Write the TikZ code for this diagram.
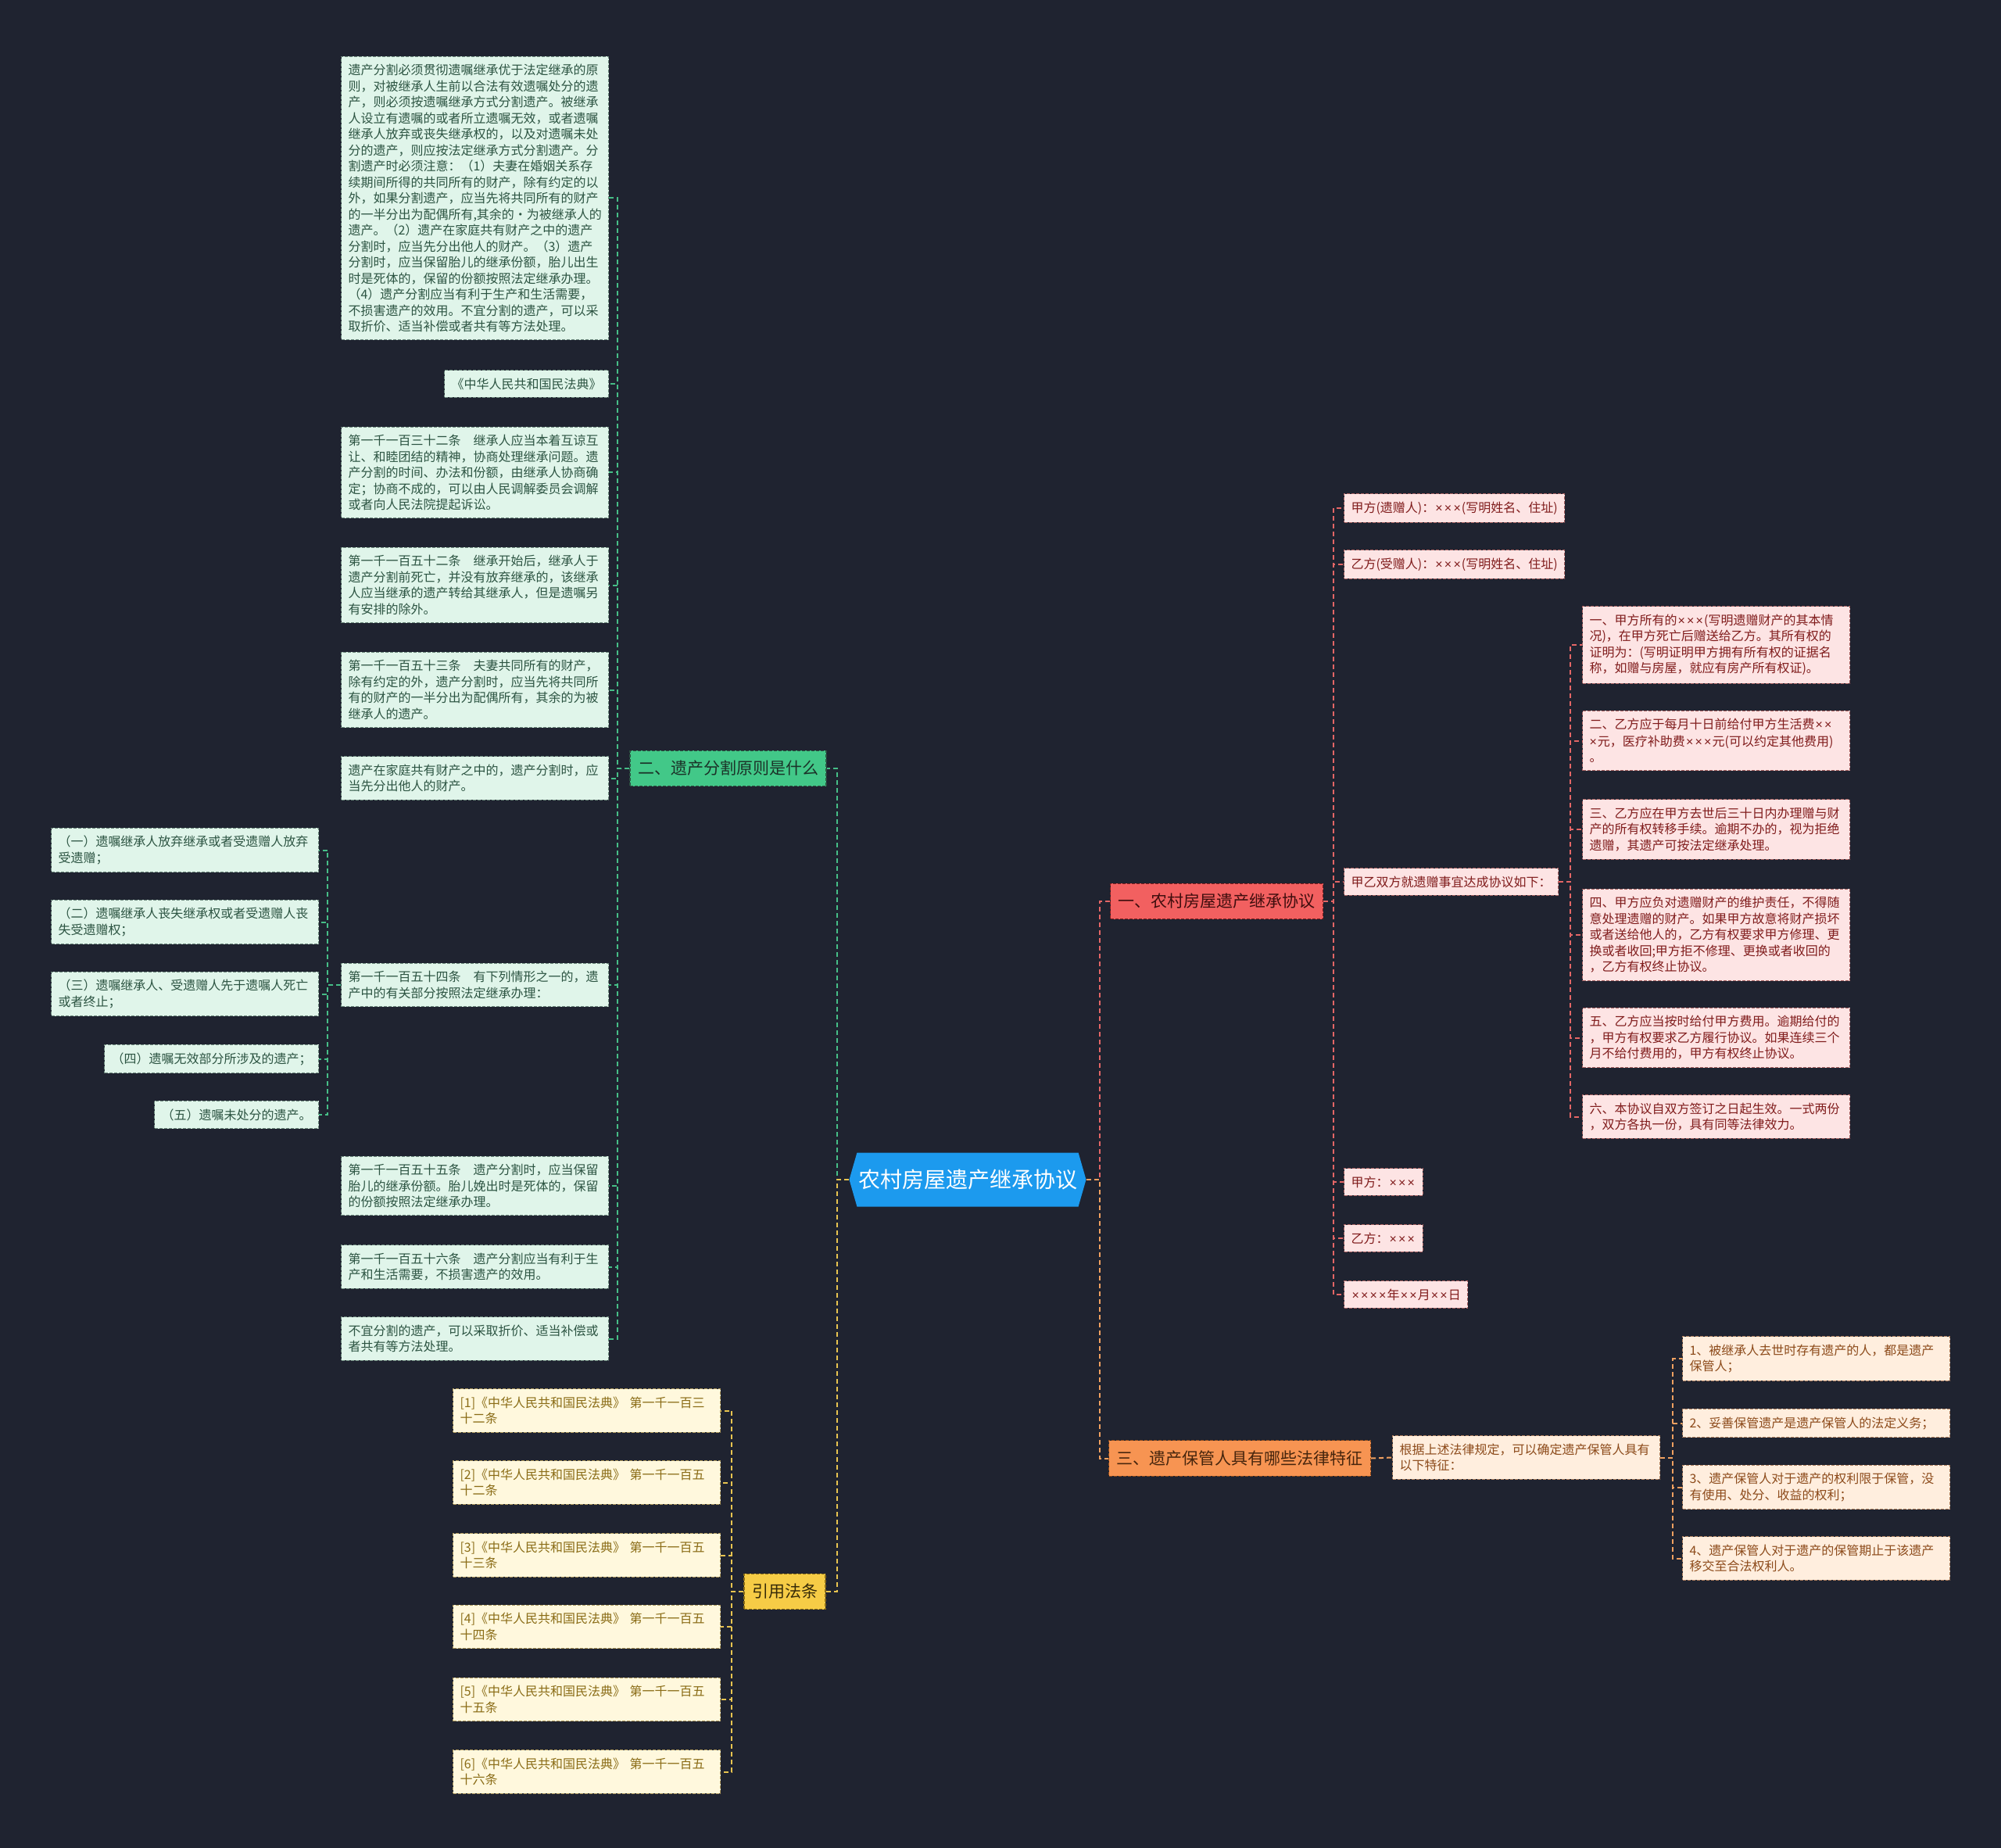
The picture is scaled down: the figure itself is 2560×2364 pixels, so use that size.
\documentclass[tikz,border=0pt]{standalone}
\usepackage{fontspec}
\setmainfont{Noto Sans CJK SC}
\newfontfamily\latinfont{Liberation Sans}
\newcommand{\crs}{{\kern0.55pt\latinfont ×\kern0.55pt}}
\usetikzlibrary{shapes.symbols}

\definecolor{bg}{RGB}{31,35,48}
\definecolor{rootc}{RGB}{28,154,238}
\definecolor{gmain}{RGB}{66,200,136}
\definecolor{gleaf}{RGB}{224,245,234}
\definecolor{gtext}{RGB}{44,84,66}
\definecolor{gline}{RGB}{70,190,135}
\definecolor{ymain}{RGB}{246,204,70}
\definecolor{yleaf}{RGB}{255,248,221}
\definecolor{ytext}{RGB}{138,108,22}
\definecolor{yline}{RGB}{232,196,80}
\definecolor{rmain}{RGB}{242,96,96}
\definecolor{rleaf}{RGB}{253,228,228}
\definecolor{rtext}{RGB}{128,28,28}
\definecolor{rline}{RGB}{228,102,102}
\definecolor{omain}{RGB}{247,148,82}
\definecolor{oleaf}{RGB}{255,238,222}
\definecolor{otext}{RGB}{140,74,26}
\definecolor{oline}{RGB}{240,160,96}

\begin{document}
\begin{tikzpicture}[x=0.5pt,y=-0.5pt]
  \tikzset{
      link/.style = {
          dashed, dash pattern = on 3pt off 2pt, line width = 1pt
      },
      root/.style = {
          shape = signal, signal to = west and east, signal pointer angle = 148,
          fill = rootc, text = white, font = \fontsize{14}{16}\selectfont,
          minimum width = 151.5pt, minimum height = 34.5pt, inner sep = 0pt
      },
      branch/.style = {
          draw, dashed, dash pattern = on 2pt off 1pt, line width = 0.6pt,
          font = \fontsize{10.5}{12}\selectfont, inner xsep = 5pt, inner ysep = 6.5pt
      },
      leaf/.style = {
          draw, dashed, dash pattern = on 2pt off 1pt, line width = 0.5pt,
          font = \fontsize{8}{10.25}\selectfont, align = left,
          inner xsep = 4.5pt, inner ysep = 5pt
      },
      wideleaf/.style = {
          leaf, text width = 162pt
      },
      gbr/.style = {fill = gmain, draw = gtext, text = gtext!60!black},
      ybr/.style = {fill = ymain, draw = ytext, text = ytext!40!black},
      rbr/.style = {fill = rmain, draw = rtext, text = rtext!50!black},
      obr/.style = {fill = omain, draw = otext, text = otext!50!black},
      gcol/.style = {fill = gleaf, draw = gtext!70, text = gtext},
      ycol/.style = {fill = yleaf, draw = ytext!70, text = ytext},
      rcol/.style = {fill = rleaf, draw = rtext!70, text = rtext},
      ocol/.style = {fill = oleaf, draw = otext!70, text = otext}
  }
  \path[use as bounding box, fill = bg] (0,0) rectangle (2560,2364);

  % centre
  \node[root] (root) at (1238,1509) {农村房屋遗产继承协议};

  % left: 二
  \node[branch, gbr] (g) at (931.5,983) {二、遗产分割原则是什么};
  \node[wideleaf, gcol, anchor=east] (g1) at (779,253.5) {遗产分割必须贯彻遗嘱继承优于法定继承的原\\则，对被继承人生前以合法有效遗嘱处分的遗\\产，则必须按遗嘱继承方式分割遗产。被继承\\人设立有遗嘱的或者所立遗嘱无效，或者遗嘱\\继承人放弃或丧失继承权的，以及对遗嘱未处\\分的遗产，则应按法定继承方式分割遗产。分\\割遗产时必须注意：（1）夫妻在婚姻关系存\\续期间所得的共同所有的财产，除有约定的以\\外，如果分割遗产，应当先将共同所有的财产\\的一半分出为配偶所有,其余的·为被继承人的\\遗产。（2）遗产在家庭共有财产之中的遗产\\分割时，应当先分出他人的财产。（3）遗产\\分割时，应当保留胎儿的继承份额，胎儿出生\\时是死体的，保留的份额按照法定继承办理。\\（4）遗产分割应当有利于生产和生活需要，\\不损害遗产的效用。不宜分割的遗产，可以采\\取折价、适当补偿或者共有等方法处理。};
  \node[leaf, gcol, anchor=east] (g2) at (779,491) {《中华人民共和国民法典》};
  \node[wideleaf, gcol, anchor=east] (g3) at (779,604.5) {第一千一百三十二条　继承人应当本着互谅互\\让、和睦团结的精神，协商处理继承问题。遗\\产分割的时间、办法和份额，由继承人协商确\\定；协商不成的，可以由人民调解委员会调解\\或者向人民法院提起诉讼。};
  \node[wideleaf, gcol, anchor=east] (g4) at (779,748.5) {第一千一百五十二条　继承开始后，继承人于\\遗产分割前死亡，并没有放弃继承的，该继承\\人应当继承的遗产转给其继承人，但是遗嘱另\\有安排的除外。};
  \node[wideleaf, gcol, anchor=east] (g5) at (779,882.5) {第一千一百五十三条　夫妻共同所有的财产，\\除有约定的外，遗产分割时，应当先将共同所\\有的财产的一半分出为配偶所有，其余的为被\\继承人的遗产。};
  \node[wideleaf, gcol, anchor=east] (g6) at (779,995.5) {遗产在家庭共有财产之中的，遗产分割时，应\\当先分出他人的财产。};
  \node[wideleaf, gcol, anchor=east] (g7) at (779,1260) {第一千一百五十四条　有下列情形之一的，遗\\产中的有关部分按照法定继承办理：};
  \node[wideleaf, gcol, anchor=east] (g8) at (779,1517) {第一千一百五十五条　遗产分割时，应当保留\\胎儿的继承份额。胎儿娩出时是死体的，保留\\的份额按照法定继承办理。};
  \node[wideleaf, gcol, anchor=east] (g9) at (779,1620.5) {第一千一百五十六条　遗产分割应当有利于生\\产和生活需要，不损害遗产的效用。};
  \node[wideleaf, gcol, anchor=east] (g10) at (779,1712.5) {不宜分割的遗产，可以采取折价、适当补偿或\\者共有等方法处理。};
  \node[wideleaf, gcol, anchor=east] (s1) at (408,1087.5) {（一）遗嘱继承人放弃继承或者受遗赠人放弃\\受遗赠；};
  \node[wideleaf, gcol, anchor=east] (s2) at (408,1179.5) {（二）遗嘱继承人丧失继承权或者受遗赠人丧\\失受遗赠权；};
  \node[wideleaf, gcol, anchor=east] (s3) at (408,1271.5) {（三）遗嘱继承人、受遗赠人先于遗嘱人死亡\\或者终止；};
  \node[leaf, gcol, anchor=east] (s4) at (408,1354.5) {（四）遗嘱无效部分所涉及的遗产；};
  \node[leaf, gcol, anchor=east] (s5) at (408,1426) {（五）遗嘱未处分的遗产。};

  % left: citations
  \node[branch, ybr] (y) at (1004,2036) {引用法条};
  \node[wideleaf, ycol, anchor=east] (y1) at (922,1804.5) {[1]《中华人民共和国民法典》 第一千一百三\\十二条};
  \node[wideleaf, ycol, anchor=east] (y2) at (922,1896.5) {[2]《中华人民共和国民法典》 第一千一百五\\十二条};
  \node[wideleaf, ycol, anchor=east] (y3) at (922,1989.5) {[3]《中华人民共和国民法典》 第一千一百五\\十三条};
  \node[wideleaf, ycol, anchor=east] (y4) at (922,2081) {[4]《中华人民共和国民法典》 第一千一百五\\十四条};
  \node[wideleaf, ycol, anchor=east] (y5) at (922,2174) {[5]《中华人民共和国民法典》 第一千一百五\\十五条};
  \node[wideleaf, ycol, anchor=east] (y6) at (922,2266.5) {[6]《中华人民共和国民法典》 第一千一百五\\十六条};

  % right: 一
  \node[branch, rbr] (r) at (1556.5,1153) {一、农村房屋遗产继承协议};
  \node[leaf, rcol, anchor=west] (r1) at (1719,650) {甲方(遗赠人)：\crs\crs\crs(写明姓名、住址)};
  \node[leaf, rcol, anchor=west] (r2) at (1719,722) {乙方(受赠人)：\crs\crs\crs(写明姓名、住址)};
  \node[leaf, rcol, anchor=west] (r3) at (1719,1128) {甲乙双方就遗赠事宜达成协议如下：};
  \node[leaf, rcol, anchor=west] (r4) at (1719,1512) {甲方：\crs\crs\crs};
  \node[leaf, rcol, anchor=west] (r5) at (1719,1584) {乙方：\crs\crs\crs};
  \node[leaf, rcol, anchor=west] (r6) at (1719,1656) {\crs\crs\crs\crs 年\crs\crs 月\crs\crs 日};
  \node[wideleaf, rcol, anchor=west] (a1) at (2024,825) {一、甲方所有的\crs\crs\crs(写明遗赠财产的其本情\\况)，在甲方死亡后赠送给乙方。其所有权的\\证明为：(写明证明甲方拥有所有权的证据名\\称，如赠与房屋，就应有房产所有权证)。};
  \node[wideleaf, rcol, anchor=west] (a2) at (2024,947.5) {二、乙方应于每月十日前给付甲方生活费\crs\crs\\\crs 元，医疗补助费\crs\crs\crs 元(可以约定其他费用)\\。};
  \node[wideleaf, rcol, anchor=west] (a3) at (2024,1061) {三、乙方应在甲方去世后三十日内办理赠与财\\产的所有权转移手续。逾期不办的，视为拒绝\\遗赠，其遗产可按法定继承处理。};
  \node[wideleaf, rcol, anchor=west] (a4) at (2024,1196) {四、甲方应负对遗赠财产的维护责任，不得随\\意处理遗赠的财产。如果甲方故意将财产损坏\\或者送给他人的，乙方有权要求甲方修理、更\\换或者收回;甲方拒不修理、更换或者收回的\\，乙方有权终止协议。};
  \node[wideleaf, rcol, anchor=west] (a5) at (2024,1327.5) {五、乙方应当按时给付甲方费用。逾期给付的\\，甲方有权要求乙方履行协议。如果连续三个\\月不给付费用的，甲方有权终止协议。};
  \node[wideleaf, rcol, anchor=west] (a6) at (2024,1428.5) {六、本协议自双方签订之日起生效。一式两份\\，双方各执一份，具有同等法律效力。};

  % right: 三
  \node[branch, obr] (o) at (1586,1865.5) {三、遗产保管人具有哪些法律特征};
  \node[wideleaf, ocol, anchor=west] (o1) at (1781,1864.5) {根据上述法律规定，可以确定遗产保管人具有\\以下特征：};
  \node[wideleaf, ocol, anchor=west] (p1) at (2152,1738) {1、被继承人去世时存有遗产的人，都是遗产\\保管人；};
  \node[wideleaf, ocol, anchor=west] (p2) at (2152,1820.5) {2、妥善保管遗产是遗产保管人的法定义务；};
  \node[wideleaf, ocol, anchor=west] (p3) at (2152,1902.5) {3、遗产保管人对于遗产的权利限于保管，没\\有使用、处分、收益的权利；};
  \node[wideleaf, ocol, anchor=west] (p4) at (2152,1993.5) {4、遗产保管人对于遗产的保管期止于该遗产\\移交至合法权利人。};

  % links
  \draw[link, gline] (root.west) -- ++(-15,0) |- (g.east);
  \draw[link, yline] (root.west) -- ++(-15,0) |- (y.east);
  \draw[link, rline] (root.east) -- ++(17,0) |- (r.west);
  \draw[link, oline] (root.east) -- ++(17,0) |- (o.west);

  \draw[link, gline] (g.west) -- ++(-15,0) |- (g1.east);
  \draw[link, gline] (g.west) -- ++(-15,0) |- (g2.east);
  \draw[link, gline] (g.west) -- ++(-15,0) |- (g3.east);
  \draw[link, gline] (g.west) -- ++(-15,0) |- (g4.east);
  \draw[link, gline] (g.west) -- ++(-15,0) |- (g5.east);
  \draw[link, gline] (g.west) -- ++(-15,0) |- (g6.east);
  \draw[link, gline] (g.west) -- ++(-15,0) |- (g7.east);
  \draw[link, gline] (g.west) -- ++(-15,0) |- (g8.east);
  \draw[link, gline] (g.west) -- ++(-15,0) |- (g9.east);
  \draw[link, gline] (g.west) -- ++(-15,0) |- (g10.east);
  \draw[link, gline] (g7.west) -- ++(-17,0) |- (s1.east);
  \draw[link, gline] (g7.west) -- ++(-17,0) |- (s2.east);
  \draw[link, gline] (g7.west) -- ++(-17,0) |- (s3.east);
  \draw[link, gline] (g7.west) -- ++(-17,0) |- (s4.east);
  \draw[link, gline] (g7.west) -- ++(-17,0) |- (s5.east);

  \draw[link, yline] (y.west) -- ++(-15,0) |- (y1.east);
  \draw[link, yline] (y.west) -- ++(-15,0) |- (y2.east);
  \draw[link, yline] (y.west) -- ++(-15,0) |- (y3.east);
  \draw[link, yline] (y.west) -- ++(-15,0) |- (y4.east);
  \draw[link, yline] (y.west) -- ++(-15,0) |- (y5.east);
  \draw[link, yline] (y.west) -- ++(-15,0) |- (y6.east);

  \draw[link, rline] (r.east) -- ++(13,0) |- (r1.west);
  \draw[link, rline] (r.east) -- ++(13,0) |- (r2.west);
  \draw[link, rline] (r.east) -- ++(13,0) |- (r3.west);
  \draw[link, rline] (r.east) -- ++(13,0) |- (r4.west);
  \draw[link, rline] (r.east) -- ++(13,0) |- (r5.west);
  \draw[link, rline] (r.east) -- ++(13,0) |- (r6.west);
  \draw[link, rline] (r3.east) -- ++(15,0) |- (a1.west);
  \draw[link, rline] (r3.east) -- ++(15,0) |- (a2.west);
  \draw[link, rline] (r3.east) -- ++(15,0) |- (a3.west);
  \draw[link, rline] (r3.east) -- ++(15,0) |- (a4.west);
  \draw[link, rline] (r3.east) -- ++(15,0) |- (a5.west);
  \draw[link, rline] (r3.east) -- ++(15,0) |- (a6.west);

  \draw[link, oline] (o.east) -- (o1.west);
  \draw[link, oline] (o1.east) -- ++(16,0) |- (p1.west);
  \draw[link, oline] (o1.east) -- ++(16,0) |- (p2.west);
  \draw[link, oline] (o1.east) -- ++(16,0) |- (p3.west);
  \draw[link, oline] (o1.east) -- ++(16,0) |- (p4.west);
\end{tikzpicture}
\end{document}
